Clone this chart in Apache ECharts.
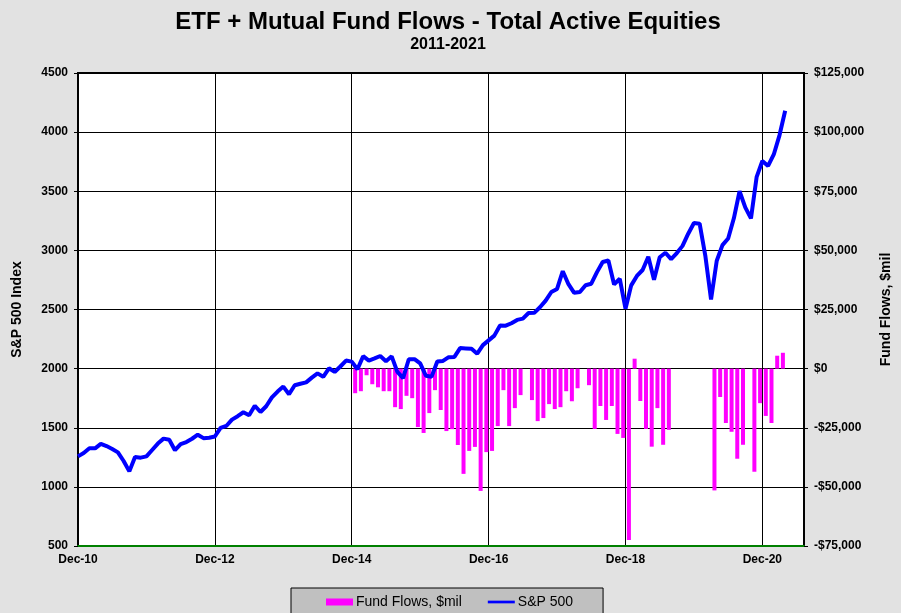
<!DOCTYPE html>
<html>
<head>
<meta charset="utf-8">
<script src="https://cdn.jsdelivr.net/npm/echarts@6/dist/echarts.min.js"></script>
<style>
    html, body { margin: 0; padding: 0; background: #e2e2e2; }
    #chart { width: 901px; height: 613px; }
</style>
</head>
<body>
<div id="chart"></div>
<script>
    // S&P 500 month-end closes, Dec-10 .. Apr-21 (one per month)
    const spxStart = 0 // Dec-10 = month 0
    const spx = [
        1258,
        1286, 1327, 1326, 1364, 1345, 1321, 1292, 1219, 1131, 1253, 1247, 1258,
        1312, 1366, 1408, 1398, 1310, 1362, 1379, 1407, 1441, 1412, 1416, 1426,
        1498, 1515, 1569, 1598, 1631, 1606, 1686, 1633, 1682, 1757, 1806, 1848,
        1783, 1859, 1872, 1884, 1924, 1960, 1931, 2003, 1972, 2018, 2068, 2059,
        1995, 2105, 2068, 2086, 2107, 2063, 2104, 1972, 1920, 2079, 2080, 2044,
        1940, 1932, 2060, 2065, 2097, 2099, 2174, 2171, 2168, 2126, 2199, 2239,
        2279, 2364, 2363, 2384, 2412, 2423, 2470, 2472, 2519, 2575, 2648, 2674,
        2824, 2714, 2641, 2648, 2705, 2718, 2816, 2902, 2914, 2712, 2760, 2507,
        2704, 2784, 2834, 2946, 2752, 2942, 2980, 2926, 2977, 3038, 3141, 3231,
        3226, 2954, 2585, 2912, 3044, 3100, 3271, 3500, 3363, 3270, 3622, 3756,
        3714, 3811, 3973, 4181
    ]

    // monthly fund flows ($mil), Dec-14 .. Mar-21, null = no data
    const flowStart = 48 // Dec-14
    const flows = [
        -10400,
        -9550, -2800, -6600, -7900, -9550, -9550, -16300, -17100, -11500, -12500, -24700, -27200,
        -18800, -9100, -17500, -26400, -25600, -32300, -44500, -34800, -33100, -51700, -35300, -34800,
        -24300, -9100, -24300, -16700, -11200, null, -13300, -22200, -20900, -15000, -17100, -16300,
        -9550, -13800, -8300, null, -7000, -25500, -15800, -21700, -15800, -27600, -29300, -72500,
        4200, -13700, -25500, -33000, -16700, -32200, -25900, null, null, null, null, null,
        null, null, -51500, -12000, -23000, -26700, -38100, -32200, null, -43600, -14600, -20000,
        -23000, 5460, 6700
    ]

    const flowOffset = 0.6 // flows plotted mid-month

    const spxData = spx.map((v, i) => [spxStart + i, v])
    const flowData = flows.map((v, i) => [flowStart + i + flowOffset, v])

    const fontFamily = '"Liberation Sans", Arial, sans-serif'

    function monthLabel(v) {
        if (v % 24 !== 0) return ''
        const yy = 10 + v / 12
        return 'Dec-' + String(yy).padStart(2, '0')
    }

    function dollars(v) {
        const s = '$' + Math.abs(v).toLocaleString('en-US')
        return v < 0 ? '-' + s : s
    }

    const chart = echarts.init(document.getElementById('chart'))

    chart.setOption({
        backgroundColor: '#e2e2e2',
        animation: false,
        textStyle: { fontFamily },
        title: {
            text: 'ETF + Mutual Fund Flows - Total Active Equities',
            subtext: '2011-2021',
            left: 443,
            textAlign: 'center',
            top: 5,
            itemGap: 3,
            textStyle: { fontSize: 24, fontWeight: 'bold', color: '#000', fontFamily },
            subtextStyle: { fontSize: 16, fontWeight: 'bold', color: '#000', fontFamily }
        },
        legend: {
            left: 291,
            top: 588,
            padding: [7, 30, 12, 35],
            itemGap: 26,
            itemWidth: 27,
            itemHeight: 7,
            backgroundColor: '#c0c0c0',
            borderColor: '#000',
            borderWidth: 1,
            borderRadius: 0,
            textStyle: { fontSize: 14, color: '#000', fontFamily, padding: [0, 0, 0, -2] },
            data: [
                { name: 'Fund Flows, $mil', icon: 'rect' },
                { name: 'S&P 500', icon: 'path://M0,0H30V3H0Z' }
            ]
        },
        grid: {
            left: 78,
            right: 96,
            top: 73,
            bottom: 67,
            show: true,
            backgroundColor: '#fff',
            borderColor: '#000',
            borderWidth: 2
        },
        xAxis: {
            type: 'value',
            min: 0,
            max: 127.3,
            interval: 24,
            axisLine: { onZero: false, lineStyle: { color: '#008000', width: 2 } },
            axisTick: { show: false },
            axisLabel: {
                formatter: monthLabel,
                fontSize: 12,
                fontWeight: 'bold',
                color: '#000',
                margin: 8,
                showMaxLabel: false
            },
            splitLine: { lineStyle: { color: '#000', width: 1 } }
        },
        yAxis: [{
            type: 'value',
            min: 500,
            max: 4500,
            interval: 500,
            name: 'S&P 500 Index',
            nameLocation: 'middle',
            nameGap: 54,
            nameTextStyle: { fontSize: 14, fontWeight: 'bold', color: '#000', fontFamily },
            axisLine: { show: true, lineStyle: { color: '#000', width: 2 } },
            axisTick: { show: true, length: 4, lineStyle: { color: '#000' } },
            axisLabel: { formatter: v => String(v), fontSize: 12, fontWeight: 'bold', color: '#000', margin: 10 },
            splitLine: { lineStyle: { color: '#000', width: 1 } }
        }, {
            type: 'value',
            min: -75000,
            max: 125000,
            interval: 25000,
            position: 'right',
            name: 'Fund Flows, $mil',
            nameLocation: 'middle',
            nameGap: 75,
            nameTextStyle: { fontSize: 14, fontWeight: 'bold', color: '#000', fontFamily },
            axisLine: { show: true, lineStyle: { color: '#000', width: 2 } },
            axisTick: { show: true, length: 4, lineStyle: { color: '#000' } },
            axisLabel: { formatter: dollars, fontSize: 12, fontWeight: 'bold', color: '#000', margin: 10 },
            splitLine: { show: false }
        }],
        series: [{
            name: 'Fund Flows, $mil',
            type: 'bar',
            yAxisIndex: 1,
            barWidth: 4,
            itemStyle: { color: '#ff00ff' },
            data: flowData,
            z: 2
        }, {
            name: 'S&P 500',
            type: 'line',
            yAxisIndex: 0,
            symbol: 'none',
            lineStyle: { color: '#0000ff', width: 4 },
            itemStyle: { color: '#0000ff' },
            data: spxData,
            z: 3
        }]
    })
</script>
</body>
</html>
